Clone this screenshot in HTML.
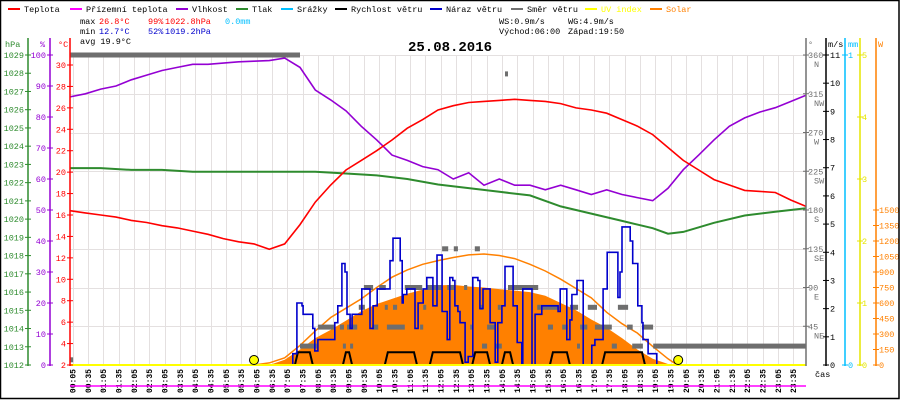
<!DOCTYPE html>
<html><head><meta charset="utf-8"><style>
html,body{margin:0;padding:0;background:#fff}
svg{display:block}
text{font-family:"Liberation Mono",monospace;font-size:8.5px}
</style></head><body>
<svg id="c" width="900" height="400" viewBox="0 0 900 400"></svg>
<script>
// ---- data ----
const tempHours=[0,0.5,1,1.5,2,2.5,3,3.5,4,4.5,5,5.5,6,6.5,7,7.5,8,8.5,9,9.5,10,10.5,11,11.5,12,12.5,13,13.5,14,14.5,15,15.5,16,16.5,17,17.5,18,18.5,19,19.5,20,20.5,21,21.5,22,22.5,23,23.5,24];
const tempVals=[16.4,16.2,16.0,15.8,15.5,15.3,15.0,14.8,14.5,14.2,13.8,13.5,13.3,12.8,13.3,15.1,17.2,18.8,20.2,21.1,22,23,24.1,24.9,25.8,26.2,26.5,26.6,26.7,26.8,26.7,26.6,26.4,26.0,25.8,25.5,24.9,24.3,23.5,22.3,21.1,20.2,19.3,18.8,18.3,18.2,18.1,17.4,16.8];
const humVals=[86.5,87.5,89,90,92,93.5,95,96,97,97,97.4,97.8,98,98.2,99,96,88.7,85.5,82,77,72.6,67.7,66,64,63,60,62,58,60,58,58,56.5,58,56.5,55,56.5,55,54,53,57,63,67.7,72.6,77,79.7,81.6,83,85,87];
const presHours=[0,1,2,3,4,5,6,7,8,9,10,11,12,13,14,15,16,17,18,19,19.5,20,21,22,23,24];
const presVals=[1022.8,1022.8,1022.7,1022.7,1022.6,1022.6,1022.6,1022.6,1022.6,1022.5,1022.4,1022.2,1021.9,1021.7,1021.5,1021.3,1020.7,1020.3,1019.9,1019.5,1019.2,1019.3,1019.8,1020.2,1020.4,1020.6];
const solarHours=[6.5,7,7.5,8,8.5,9,9.5,10,10.5,11,11.5,12,12.5,13,13.5,14,14.5,15,15.5,16,16.5,17,17.5,18,18.5,19,19.5,20];
const solarVals=[0,50,150,260,340,430,520,590,640,690,730,770,775,760,750,735,720,705,670,600,530,440,360,260,150,60,10,0];
const theoHours=[6,6.5,7,7.5,8,8.5,9,9.5,10,10.5,11,11.5,12,12.5,13,13.5,14,14.5,15,15.5,16,16.5,17,17.5,18,18.5,19,19.5,19.8];
const theoVals=[0,20,70,190,330,460,550,640,750,850,920,975,1010,1040,1065,1074,1060,1030,975,910,830,740,650,510,400,310,180,60,0];
const gustMin=[430,436,444,454,456,470,475,479,485,513,518,524,532,538,542,548,552,567,571,583,587,593,601,616,626,632,642,646,650,652,659,671,675,681,691,698,708,710,718,724,728,738,743,749,753,759,763,773,779,783,788,798,802,808,818,822,832,837,845,851,865,867,875,884,886,900,904,910,920,923,949,955,959,965,972,978,982,992,1002,1004,1017,1021,1027,1041,1043,1051,1066,1072,1076,1080,1092,1096,1101,1109,1111,1119,1121,1131,1145,1148];
const gustVals=[0,0.4,2.2,2.1,1.8,1.8,1.3,0.5,0.9,0.9,1.5,2.1,3.6,3.3,1.8,1.3,1.8,1.8,2.7,2.7,1.3,2.1,2.7,2.7,3.7,4.5,4.5,3.7,2.2,2.5,2.7,2.7,1.3,2.2,2.7,3.1,3.1,2.1,3.9,3.9,1.9,0.9,3.1,3.0,2.1,1.9,1.5,0.1,0.3,0.3,3.1,3.0,2.0,2.7,2.7,1.5,0.1,1.5,2.1,3.5,3.5,2.1,0.8,0,2.7,2.7,0,1.8,1.8,2.1,2.1,1.9,2.7,2.7,0.9,1.6,2.5,3.0,3.0,0,0,0.7,0.9,0.9,2.7,4.0,4.0,2.4,3.3,4.9,4.9,4.4,3.6,3.6,2.1,1.5,0.9,0.4,0.4,0];
const wsStart=[440,534,616,704,787,845,939,1041];
const wsEnd=[475,552,679,769,822,867,978,1125];
const wsVals=[0.45,0.45,0.45,0.45,0.45,0.45,0.45,0.45];
const dirStart=[0,450,485,528,542,534,548,591,620,685,565,616,632,691,575,605,655,698,738,771,728,751,792,851,857,802,837,914,978,1013,1072,783,816,935,963,998,1027,1090,1119,806,832,992,1060,1100,1141,0];
const dirEnd=[450,483,518,536,562,538,552,603,655,691,577,620,640,695,593,618,689,728,753,777,740,759,802,855,916,806,841,955,994,1031,1092,788,832,945,974,1012,1060,1101,1141,816,845,996,1070,1121,1440,6];
const dirDeg=[360,22,44,44,44,22,22,44,44,44,67,67,67,67,90,90,90,90,90,90,135,135,135,338,90,67,67,67,67,67,67,44,44,44,44,44,44,44,44,22,22,22,22,22,22,6];
const hpaTicks=[1012,1013,1014,1015,1016,1017,1018,1019,1020,1021,1022,1023,1024,1025,1026,1027,1028,1029];
const pctTicks=[0,10,20,30,40,50,60,70,80,90,100];
const degCTicks=[2,4,6,8,10,12,14,16,18,20,22,24,26,28,30];
const dirTicks=[45,90,135,180,225,270,315,360];
const dirNames=["NE","E","SE","S","SW","W","NW","N"];
const msTicks=[0,1,2,3,4,5,6,7,8,9,10,11];
const uvTicks=[0,1,2,3,4,5];
const wTicks=[0,150,300,450,600,750,900,1050,1200,1350,1500];

// ---- scales ----
const X0=70,X1=806,YT=55,YB=365;
const xm=m=>X0+m*(X1-X0)/1440;
const xh=h=>xm(h*60);
const yC=v=>YB-(v-2)*300/28;
const yP=v=>YB-v*(YB-YT)/100;
const yH=v=>YB-(v-1012)*(YB-YT)/17;
const yD=v=>YB-v*(YB-YT)/360;
const yMS=v=>YB-v*(YB-YT)/11;
const yUV=v=>YB-v*(YB-YT)/5;
const yW=v=>YB-v*155/1500;

const svg=document.getElementById('c');
const NS='http://www.w3.org/2000/svg';
function mk(tag,attrs,parent){const e=document.createElementNS(NS,tag);for(const k in attrs)e.setAttribute(k,attrs[k]);(parent||svg).appendChild(e);return e;}
function txt(x,y,s,fill,anchor,extra){const t=mk('text',Object.assign({x:x,y:y,fill:fill,'text-anchor':anchor||'start'},extra||{}));t.textContent=s;return t;}

const bg=mk('rect',{x:0,y:0,width:900,height:400,fill:'#fff'});



const grid=mk('g',{stroke:'#e4e0e0','stroke-width':1});


for(let k=0;k<48;k++){const x=Math.round(xm(5+30*k))+0.5;mk('line',{x1:x,x2:x,y1:YT,y2:YB},grid);}
dirTicks.forEach(d=>{const y=Math.round(yD(d))+0.5;mk('line',{x1:X0,x2:X1,y1:y,y2:y},grid);});

let sp='M'+xh(solarHours[0])+','+yW(0);
solarHours.forEach((h,i)=>{sp+=' L'+xh(h).toFixed(1)+','+yW(solarVals[i]).toFixed(1);});
sp+=' L'+xh(solarHours[solarHours.length-1])+','+yW(0)+' Z';
const sf=mk('path',{d:sp,fill:'#ff8000',stroke:'none'});



const tl=mk('polyline',{points:theoHours.map((h,i)=>xh(h).toFixed(1)+','+yW(theoVals[i]).toFixed(1)).join(' '),fill:'none',stroke:'#ff8000','stroke-width':1.5});



const dg=mk('g',{fill:'#6e6e6e'});


dirStart.forEach((s,i)=>{
  const x1=xm(s),x2=Math.max(xm(dirEnd[i]),x1+3);
  const r=mk('rect',{x:x1.toFixed(1),y:(yD(dirDeg[i])-2.5).toFixed(1),width:(x2-x1).toFixed(1),height:5},dg);
  
  
});

let wp='M'+X0+','+YB;
wsStart.forEach((s,i)=>{
  wp+=' L'+xm(s).toFixed(1)+','+YB+' L'+(xm(s)+3).toFixed(1)+','+yMS(wsVals[i]).toFixed(1)+' L'+(xm(wsEnd[i])-3).toFixed(1)+','+yMS(wsVals[i]).toFixed(1)+' L'+xm(wsEnd[i]).toFixed(1)+','+YB;
});
wp+=' L'+X1+','+YB;
const ws=mk('path',{d:wp,fill:'none',stroke:'#000','stroke-width':2});



let gp='';
gustMin.forEach((m,i)=>{
  const x=xm(m).toFixed(1),y=yMS(gustVals[i]).toFixed(1);
  if(i===0)gp='M'+x+','+y;else gp+=' H'+x+' V'+y;
});
const gl=mk('path',{d:gp,fill:'none',stroke:'#0000cc','stroke-width':1.6});



const pl=mk('polyline',{points:presHours.map((h,i)=>xh(h).toFixed(1)+','+yH(presVals[i]).toFixed(1)).join(' '),fill:'none',stroke:'#2e8b2e','stroke-width':2});


const hl=mk('polyline',{points:tempHours.map((h,i)=>xh(h).toFixed(1)+','+yP(humVals[i]).toFixed(1)).join(' '),fill:'none',stroke:'#9400d3','stroke-width':1.6});


const tpl=mk('polyline',{points:tempHours.map((h,i)=>xh(h).toFixed(1)+','+yC(tempVals[i]).toFixed(1)).join(' '),fill:'none',stroke:'#ff0000','stroke-width':1.6});



const uv=mk('line',{x1:X0,x2:X1,y1:YB,y2:YB,stroke:'#ffff00','stroke-width':2});


[[6,'sunrise-marker'],[19+50/60,'sunset-marker']].forEach(p=>{
  const c=mk('circle',{cx:xh(p[0]).toFixed(1),cy:360,r:4.5,fill:'#ffff00',stroke:'#000','stroke-width':1});
  
  
});

function vaxis(name,x,color,ticks,yf,labels,side,lx){
  const g=mk('g',{});
  
  
  mk('line',{x1:x,x2:x,y1:38,y2:YB+1,stroke:color,'stroke-width':1.5},g);
  ticks.forEach((v,i)=>{
    const y=yf(v);
    mk('line',{x1:x-3,x2:x+3,y1:y,y2:y,stroke:color},g);
    const t=txt(lx,y+3,labels?labels[i]:String(v),color,side,{});
    g.appendChild(t);
  });
  return g;
}
vaxis('pressure-axis',28,'#2e8b2e',hpaTicks,yH,null,'end',24);
vaxis('humidity-axis',50,'#9400d3',pctTicks,yP,null,'end',46);
vaxis('temperature-axis',70,'#ff0000',degCTicks,yC,null,'end',66);
const da=vaxis('wind-direction-axis',806,'#707070',dirTicks,yD,null,'start',808);
dirTicks.forEach((d,i)=>{const t=txt(814,yD(d)+12,dirNames[i],'#707070','start');da.appendChild(t);});
vaxis('wind-speed-axis',826,'#000',msTicks,yMS,null,'start',830);
vaxis('rain-axis',845,'#00bfff',[0,1],v=>YB-v*(YB-YT),null,'start',848);
vaxis('uv-axis',860,'#e6e600',uvTicks,yUV,null,'start',862);
vaxis('solar-axis',876,'#ff8000',wTicks,yW,null,'start',879);

[['hPa',5,'#2e8b2e','pressure-unit'],['%',40,'#9400d3','humidity-unit'],['°C',58,'#ff0000','temperature-unit'],['°',808,'#707070','direction-unit'],['m/s',828,'#000','speed-unit'],['mm',848,'#00bfff','rain-unit'],['W',878,'#ff8000','solar-unit']].forEach(a=>{
  const t=txt(a[1],47,a[0],a[2]);
  
  
});

const xl=mk('g',{});


for(let k=0;k<48;k++){
  const m=5+30*k,h=Math.floor(m/60),mm=m%60;
  const s=String(h).padStart(2,'0')+':'+String(mm).padStart(2,'0');
  const x=xm(m)+3;
  const t=txt(x,369,s,'#000','end',{transform:'rotate(-90 '+x.toFixed(1)+' 369)',style:'font-size:8px;font-weight:bold'});
  xl.appendChild(t);
}
const dew=mk('line',{x1:X0,x2:X1,y1:386,y2:386,stroke:'#ff00ff','stroke-width':1.5});


const cas=txt(815,377,'čas','#000');



const leg=[['Teplota','#ff0000',8],['Přízemní teplota','#ff00ff',70],['Vlhkost','#9400d3',176],['Tlak','#2e8b2e',236],['Srážky','#00bfff',281],['Rychlost větru','#000',335],['Náraz větru','#0000cc',430],['Směr větru','#707070',511],['UV index','#ffff00',585],['Solar','#ff8000',650]];
leg.forEach(l=>{
  const g=mk('g',{});
  
  
  mk('line',{x1:l[2],x2:l[2]+12,y1:9,y2:9,stroke:l[1],'stroke-width':2},g);
  const tc=(l[1]==='#ffff00'||l[1]==='#ff8000')?l[1]:'#000';
  g.appendChild(txt(l[2]+16,12,l[0],tc));
});

const st=mk('g',{});


[[80,24,'max','#000'],[99,24,'26.8°C','#ff0000'],[148,24,'99%','#ff0000'],[165,24,'1022.8hPa','#ff0000'],[225,24,'0.0mm','#00bfff'],
 [80,34,'min','#000'],[99,34,'12.7°C','#0000cc'],[148,34,'52%','#0000cc'],[165,34,'1019.2hPa','#0000cc'],
 [80,44,'avg 19.9°C','#000'],
 [499,24,'WS:0.9m/s','#000'],[568,24,'WG:4.9m/s','#000'],[499,34,'Východ:06:00','#000'],[568,34,'Západ:19:50','#000']].forEach(s=>st.appendChild(txt(s[0],s[1],s[2],s[3])));

const title=txt(450,51,'25.08.2016','#000','middle',{style:'font-size:14px;font-weight:bold'});



const fr=mk('rect',{x:0.5,y:0.5,width:898.5,height:398,fill:'none',stroke:'#000','stroke-width':1.5});


</script>
</body></html>
